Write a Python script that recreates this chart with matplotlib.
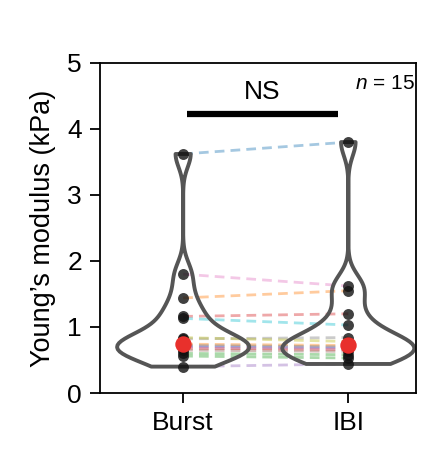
import matplotlib
matplotlib.use('Agg')
import matplotlib.pyplot as plt
import numpy as np

plt.rcParams['font.family'] = ['Liberation Sans', 'DejaVu Sans']
plt.rcParams['mathtext.fontset'] = 'custom'
plt.rcParams['mathtext.it'] = 'Liberation Sans:italic'
plt.rcParams['mathtext.rm'] = 'Liberation Sans'

# ── Data (kPa), paired per sample ─────────────────────────────────────────────
groups = ['Burst', 'IBI']
burst = [3.62, 1.44, 0.56, 1.16, 0.40, 0.65, 1.80, 0.82, 0.84, 1.13,
         0.72, 0.74, 0.60, 0.68, 0.70]
ibi   = [3.80, 1.55, 0.53, 1.20, 0.44, 0.63, 1.62, 0.84, 0.78, 1.03,
         0.70, 0.72, 0.58, 0.66, 0.68]
pair_colors = ['#1f77b4', '#ff7f0e', '#2ca02c', '#d62728', '#9467bd',
               '#8c564b', '#e377c2', '#7f7f7f', '#bcbd22', '#17becf',
               '#1f77b4', '#ff7f0e', '#2ca02c', '#d62728', '#9467bd']
y_ticks = [0, 1, 2, 3, 4, 5]

VIOLIN = '#555555'
DOT = '#111111'
MED = '#e8302c'

fig = plt.figure(figsize=(4.37, 4.69), dpi=100)
ax = fig.add_axes([0.229, 0.162, 0.723, 0.704])

pos = [0, 1]
parts = ax.violinplot([burst, ibi], positions=pos, widths=0.8,
                      showextrema=False, bw_method=0.25)
for b in parts['bodies']:
    b.set_facecolor('none')
    b.set_edgecolor(VIOLIN)
    b.set_linewidth(2.8)
    b.set_alpha(1)
    b.set_zorder(2)

for a, b, c in zip(burst, ibi, pair_colors):
    ax.plot(pos, [a, b], ls=(0, (3.5, 2.2)), lw=2.0, color=c, alpha=0.4, zorder=1)

for p, vals in zip(pos, [burst, ibi]):
    ax.scatter([p] * len(vals), vals, s=62, color=DOT, alpha=0.8, zorder=3,
               linewidths=0)
    ax.scatter([p], [np.median(vals)], s=140, color=MED, zorder=4, linewidths=0)

# significance bar
ax.plot([0.025, 0.94], [4.23, 4.23], color='black', lw=4.5, solid_capstyle='butt')
ax.text(0.48, 4.38, 'NS', ha='center', va='bottom', fontsize=19)
ax.text(0.997, 0.965, r'$n$ = 15', transform=ax.transAxes, ha='right', va='top',
        fontsize=15)

ax.set_xlim(-0.503, 1.41)
ax.set_ylim(0, 5)
ax.set_yticks(y_ticks)
ax.set_xticks(pos)
ax.set_xticklabels(groups)
ax.tick_params(labelsize=19, length=7, width=1.3, pad=6)
ax.set_ylabel('Young\u2019s modulus (kPa)', fontsize=19.5, labelpad=8)
for s in ax.spines.values():
    s.set_linewidth(1.3)

fig.savefig('out.png', dpi=100)
